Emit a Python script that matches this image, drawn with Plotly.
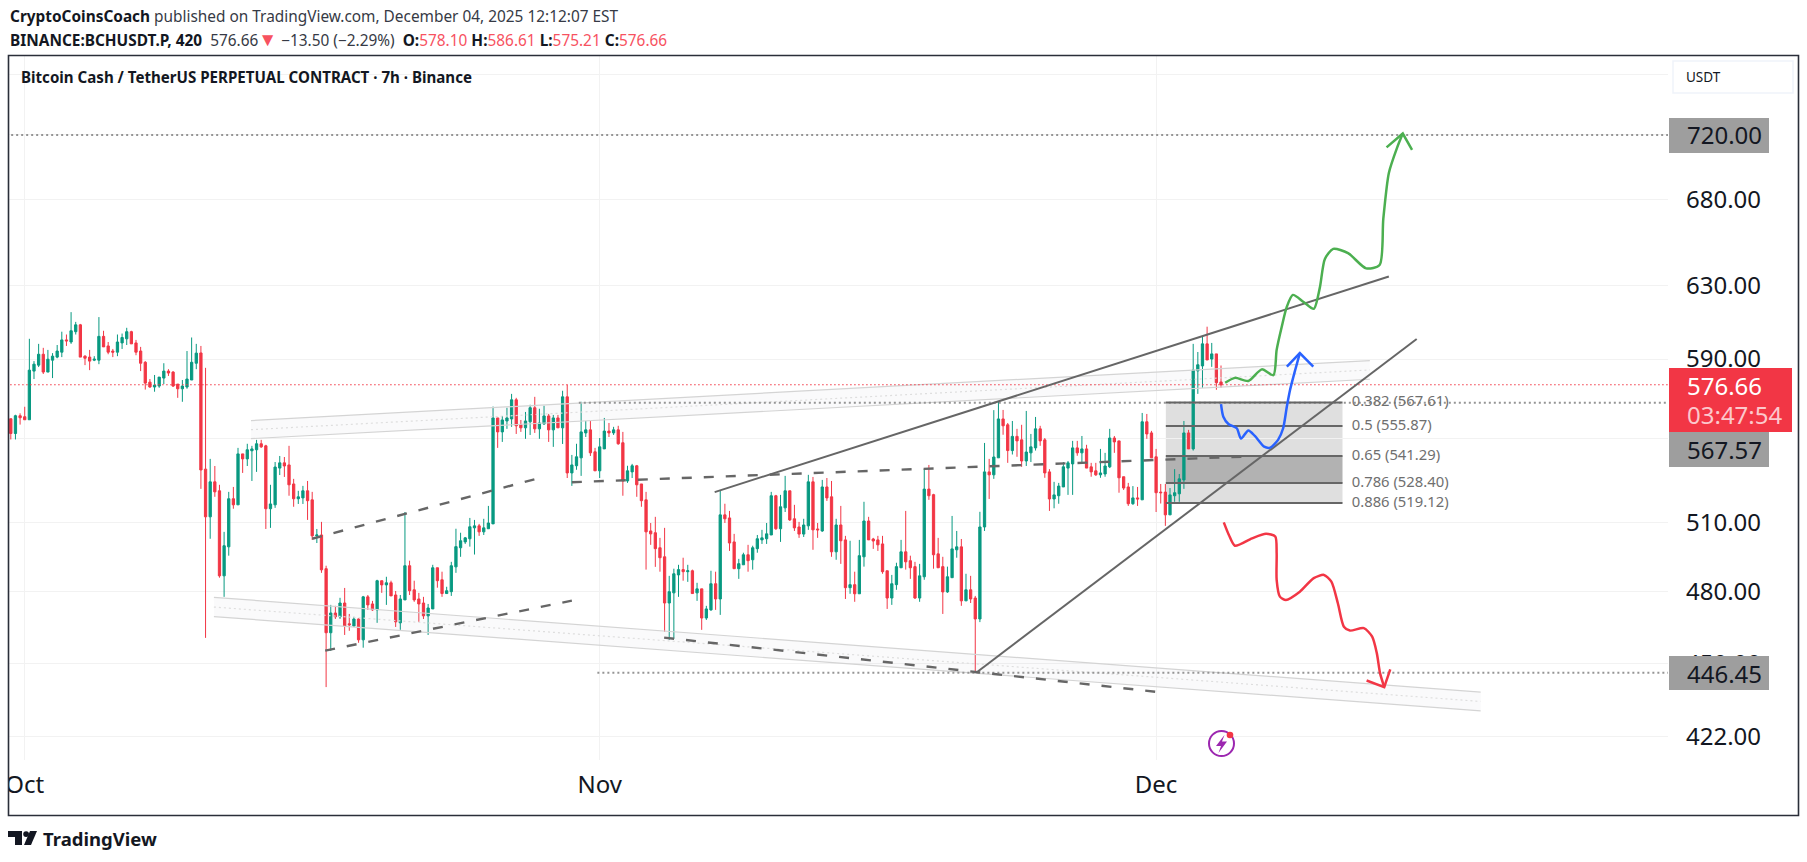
import plotly.graph_objects as go

W, H = 1807, 862
PLOT_L, PLOT_R, PLOT_T, PLOT_B = 9, 1668, 56, 760

opens = [559.5,552.2,561,560.5,559,583.7,586.8,592.5,583.2,589.4,591,593.6,600.1,599,604.5,608.2,591.5,591,589.4,589.4,602,596.9,594.2,593.6,598.5,600.7,604.5,598.5,594.2,588.3,578,575.5,576,580.1,583.7,583.2,577,574.6,575.5,579.1,587.8,
593.2,535,512.8,529,524.8,486.6,499.3,521.1,518.3,542.3,539.9,543.8,544.3,547.2,546.2,516.5,518.3,535.5,538,537,528,521.1,521.5,524.8,520.6,504.2,504.6,489.7,462.6,470.8,469.2,475,466.3,465.4,468.3,459.7,477.6,474.6,472.1,484.5,482.7,483.6,478.4,
466.7,476.3,491,480.6,476.7,475,469.6,472.5,490.1,484.9,479,479.8,490.5,498.9,501.5,502.9,507.8,508.7,506,507.4,509.6,559.9,553,558.4,559.4,569,556.5,555,558,565,554.5,556.9,560.9,554,559.9,555,570.5,533.2,536.6,540.4,552.5,554,543.3,534.2,
544.7,553.4,552.5,554,547.7,529.4,533.7,536.6,528,520.6,506.4,505.6,498.9,494.9,475,479.3,487,489.3,488.4,488.8,479.3,481,468.7,472.1,483.2,476.7,513.7,512.3,501.5,489.7,491.4,495.8,493.6,498.5,502.4,502.9,504.6,522.5,507.4,516.9,524.8,511.9,
508.2,505,508.7,529,507.3,506.4,526.6,522,497.1,509.1,502.4,481.5,482.8,478.9,494.9,510.9,502.8,502.4,500.6,488.8,477.1,482.8,490.1,497.1,493.2,490.6,477.1,486.2,525.6,523,496.2,490.6,479.7,485.8,498,499.3,475.9,480.6,477.1,468.3,508.2,533.7,532.3,
540.4,559.4,556.5,543.9,550.8,549.1,538.9,542.8,545.2,554.5,549.1,533.7,521,522.5,526.6,535.5,537.5,545.2,542.8,544.7,536.1,534.2,532.3,532.7,536.1,550,548.6,531.4,526.6,518.8,521.5,520.6,558,552.5,540.9,524.2,524.2,513.7,522.5,523.4,529.9,552.5,544.7,583.8,586.4,598,590,592.7,578.1]

highs = [559.5,561.5,562.2,565.5,600.7,588.9,598,595.9,594.8,593.1,597.4,604.5,603,615.1,609.8,608.7,592,594.8,591.5,612.4,605,599,595.3,603,603.5,606.6,605,600.1,596.4,588.9,579.6,581.7,580.6,587.8,584.7,583.7,577,579.1,594.2,601.4,598,
596.9,585.4,539.9,536.5,527.6,506,524.3,526.6,545.2,542.3,547.2,546.2,549.1,549.1,546.7,527.6,538.4,541.3,540.8,546.2,530.4,524.8,527.1,529.4,524.3,507.3,510.5,491,474.2,473.8,477.2,481.4,470.4,469.2,468.7,478,478.4,475.9,484.9,484.5,486.2,484.5,480.1,
478.4,515,493.2,484.5,479.3,477.6,474.6,491.4,490.1,488.4,481.9,492.7,507.4,505.6,503.7,512.3,511.4,509.6,511.9,517.8,565.6,559.9,560.9,565,572,570,558.9,562.9,566.5,570.5,564.5,566,561.9,561.4,561.4,573.6,576.7,541.8,547.2,568,558.4,558.4,545.2,550,
559.9,557.4,555.5,556,553,536.6,537.5,537,528,524.3,510,512.8,503.3,507.8,486.6,489.7,491.4,494.5,491.4,489.3,483.6,481,473.8,488.8,488.4,524.8,518.8,515.5,505.1,494,496.7,500.2,499.8,504.6,506.9,510,524.3,522.9,522.9,531.8,524.8,518.3,
510.5,511.9,532.3,531.3,510,529.9,530.8,529.4,511.9,517.8,504.2,502,488.4,502.4,519.7,512.8,503.3,504.2,504.2,488.8,487,492.3,502.4,515.5,495.4,492.7,491.8,535.1,537,523.4,503.3,494.9,490.6,513.2,506.4,502.8,487.5,486.6,478,515.1,547.6,539.9,563.8,
568,563.9,557.4,558.4,554.5,556.5,563.4,552,560.4,556,550,535,529,528.5,538.4,538.9,548.6,548.6,551,546.7,538,538,544.7,542.8,554.5,551,548.6,531.4,528.5,527,526.6,562.4,561.9,553.5,544.7,528,528,526.1,535,532.7,558.4,554,598,593.7,602.2,607.2,598.5,592.7,586.61]

lows = [549.3,549.3,556.6,559,559,579.6,585.8,582.2,583.2,580.1,590.4,591,596.9,598,603,591,586.8,584.2,588.9,587.3,596.4,592.5,591,591.5,595.3,597.4,598,592,583.7,574.2,575.1,573.1,575.1,577,581.2,575.5,570,568,574.6,579.1,584.7,
525.7,460.5,502.9,522,485.8,477.6,495.4,516.5,518.3,533.2,536.5,529.4,533.7,545.2,507.3,507.8,516.9,532.2,531.3,522.5,517.4,518.7,518.7,511.4,502.4,501,487.9,440.8,455.2,468.3,468.3,461.7,463.4,465,458.5,456.5,472.1,471.7,466.7,479.3,474.2,478,465,
463.8,476.3,478.4,475.5,467.1,468.3,461.7,472.5,481.5,477.6,479,478,487.9,494.9,500.6,499.4,495.9,504.2,504.6,507.4,509.6,545.2,548.1,554.5,555.5,552,553,549.6,551.5,552.5,549.6,556.5,548.1,545.7,555,547.1,530.8,527.1,534.7,531.8,550.5,541.3,534.2,530.8,
544.7,550.5,551.5,546.7,522.5,528.5,530.8,522,517.4,489.3,500.2,490.5,488.4,463,459.7,460.1,477.6,484.5,484,479,475.9,463.8,467.9,471.7,472.1,470,510,497.5,489.7,485.3,491.4,488.4,489.3,496.7,500.6,500.6,504.6,506.9,501.5,515,510.9,506.4,
503.3,503.7,506.9,498,503.3,506,520.1,494.9,493.6,491.8,476.7,478.9,475.5,478.9,490.6,502.4,498.4,497.5,487.5,472.5,474.2,480.6,490.1,489.3,485.3,476.7,475.5,484.9,520.6,489.7,490.1,470.4,479.3,485.8,494.5,473.8,475.9,475,446.45,467,506.4,521,530.4,
540.4,551.6,538,542,540.9,536.1,536.5,538.4,543.9,546.2,530.9,515.5,516.7,518.8,526.6,522.9,522.9,541.4,537.5,535.5,531.4,531.8,530.9,531.4,535.5,542.8,523.9,525.2,517.8,518.3,517.8,520.6,549.6,540.4,515,518.9,508.7,513.7,519.7,519.7,525.7,544.7,543.9,572,575.1,589.5,585.9,574.1,575.21]

closes = [552.2,561,560,559,584.2,587.3,592.5,583.2,589.9,591.5,594.2,600.1,599.6,605,608.2,591,590.4,588.9,589.9,602,596.4,593.6,593.6,599,601.4,604.5,598,593.6,587.8,577.5,575.5,576.5,580.6,583.7,582.7,576,574.6,576,579.6,588.3,593.1,
534.6,512.8,529,524.3,486.6,499.8,521.1,518.3,542.3,539.9,544.3,544.7,547.2,545.7,516.5,518.7,536,538,536.5,527.6,521.1,522,524.8,520.2,504.2,504.6,489.2,462.6,470.8,469.2,475,465.4,465.9,468.3,459.7,477.6,474.2,472.1,484.5,482.7,483.6,478,467.1,
476.7,491,480.2,476.3,474.6,469.6,472.9,490.1,484.5,479,480.2,491,499.4,502,503.3,508.3,508.7,506,507.8,510,559.9,553,558.9,559.9,569,556,555,558.4,565,554.5,557.4,560.9,554,559.9,555,570.5,533.2,537,540.9,553,554,542.8,534.2,545.7,
553.4,552.5,554,547.2,529.4,534.2,536.6,527.6,520.2,506,505.1,498.5,494.5,475,479.8,487.5,489.3,488.4,488.8,479,481,468.7,472.5,483.2,476.7,513.7,511.9,501,489.7,491.9,495.8,493.2,498.9,502.9,503.3,505.1,522.5,507.4,517.4,524.8,511.4,507.8,
505,509.1,529,506.9,506.9,526.6,521.5,497.1,509.1,502,481.5,482.8,478.9,495.4,510.9,502.4,501.9,500.2,488.4,477.1,483.2,490.6,497.1,492.7,490.1,477.1,486.6,525.6,522.5,495.8,490.1,479.7,486.2,498.4,499.3,475.9,480.6,476.7,468.3,508.2,533.7,532.3,540.8,
559.4,556,543.9,550.8,548.6,538.9,543.2,545.7,554.5,548.6,533.2,521,522.9,527,536.1,538,545.2,542.8,544.7,535.5,533.7,532.3,533.2,536.5,550,548.1,530.9,526.1,518.8,521.5,521,558,552,540.4,523.9,523.9,513.7,522.9,523.9,530.4,552.5,544.7,584.3,587,598,589.5,592.7,577.7,576.66]

assert len(opens) == len(highs) == len(lows) == len(closes)
first_bar = -3
bars = list(range(first_bar, first_bar + len(closes)))

month_bars = [0, 124, 244]
month_labels = ["Oct", "Nov", "Dec"]
price_ticks = [422, 450, 480, 510, 550, 590, 630, 680, 720, 760]
price_labels = ["422.00", "450.00", "480.00", "510.00", "", "590.00", "630.00", "680.00", "", ""]

fib_ratio = ["0.382", "0.5", "0.65", "0.786", "0.886"]
fib_price = [567.61, 555.87, 541.29, 528.40, 519.12]
fib_bars = [246.1, 284.2]
fib_label_bar = 286.2

upper_wedge_bar, upper_wedge_price = [148.8, 294.2], [524.2, 634.9]
lower_wedge_bar, lower_wedge_price = [205.2, 300.2], [446.45, 600.6]

dash_a_bar, dash_a_price = [62, 110.3], [502.9, 530.4]
dash_b_bar, dash_b_price = [64.8, 118], [455.3, 476]
dash_c_bar, dash_c_price = [118, 264.2], [528.8, 541.1]
dash_d_bar, dash_d_price = [137.9, 243.8], [460.6, 439]

chan_up_bar = [48.8, 290.1]
chan_up_top, chan_up_mid, chan_up_bot = [558.6, 589.2], [554.1, 584.3], [549.7, 579.5]
chan_dn_bar = [40.8, 314]
chan_dn_top, chan_dn_mid, chan_dn_bot = [477.4, 438.8], [473.3, 435.2], [469.3, 431.6]

green_bar = [258.9,261,263.9,266.8,269.3,270,271.1,272.2,273.5,275.8,278,279.3,280.4,282.2,285.4,289.3,292.2,293,294.2,296,297.2]
green_price = [577.7,580.2,578.6,584.6,581.6,594.8,607.2,618.1,624.6,620.7,616.9,628.5,644.9,650.7,648.2,639.5,641.4,668.2,696.1,712.1,720.9]
green_head_bar, green_head_price = [293.7, 297.2, 299.2], [712.1, 720.9, 710.5]

blue_bar = [258,258.5,259.6,261.4,262.3,263.9,265.3,267.3,268.6,270.3,271.4,272.2,272.9,274,275]
blue_price = [566.8,560.5,556.9,554.8,549.7,553.7,551,545.8,545.3,549.1,554.8,565.6,574.1,584.3,593.1]
blue_head_bar, blue_head_price = [272.2, 275, 277.9], [586, 593.1, 586]

red_bar = [258.6,259.7,261,264.7,267.7,269.7,270,270,270.7,272,275,278,280.2,281.8,283.2,284.5,285.8,288.8,290.6,291.6,292.3,293.2]
red_price = [510.3,504.6,499.8,503.1,505.1,503.9,496.5,484.9,477.7,476.3,479.8,485.6,487,484.1,474.9,465.1,463.5,464.5,461,454.3,446.3,440.8]
red_head_bar, red_head_price = [289.4, 293.2, 294.5], [443.4, 440.8, 447.8]

last_price = 576.66
level_720 = 720
level_high = 567.57
level_low = 446.45

FONT = "Noto Sans"
INK = "#131722"
UP, DOWN = "#089981", "#f23645"
GRID = "#f2f2f2"
DRAW = "#666666"


def px(v):
    return (v - PLOT_L) / (PLOT_R - PLOT_L)


def py(v):
    return 1 - (v - PLOT_T) / (PLOT_B - PLOT_T)


fig = go.Figure()


def line(x, y, color, width=2, dash="solid", shape="linear"):
    fig.add_trace(go.Scatter(x=x, y=y, mode="lines", hoverinfo="skip", showlegend=False,
                             line=dict(color=color, width=width, dash=dash, shape=shape, smoothing=0.7)))


fig.add_trace(go.Candlestick(x=bars, open=opens, high=highs, low=lows, close=closes,
                             whiskerwidth=0, hoverinfo="skip", showlegend=False,
                             increasing=dict(line=dict(color=UP, width=1), fillcolor=UP),
                             decreasing=dict(line=dict(color=DOWN, width=1), fillcolor=DOWN)))

for cb, top, mid, bot in [(chan_up_bar, chan_up_top, chan_up_mid, chan_up_bot),
                          (chan_dn_bar, chan_dn_top, chan_dn_mid, chan_dn_bot)]:
    fig.add_trace(go.Scatter(x=cb + cb[::-1], y=top + bot[::-1], mode="lines", fill="toself",
                             fillcolor="rgba(120,123,134,0.035)", line=dict(width=0),
                             hoverinfo="skip", showlegend=False))
    line(cb, top, "#d4d4d4", 1.2)
    line(cb, bot, "#d4d4d4", 1.2)
    line(cb, mid, "#dedede", 1.2, "2px,3px")

dot = "2px,3px"
full = [bars[0] - 1, 360]
line(full, [level_720] * 2, "#959595", 2, dot)
line([119.5, 360], [level_high] * 2, "#959595", 2, dot)
line([123.5, 360], [level_low] * 2, "#959595", 2, dot)
line(full, [last_price] * 2, DOWN, 1, "1.5px,2.5px")

dash = "10px,12px"
line(dash_a_bar, dash_a_price, DRAW, 2.4, dash)
line(dash_b_bar, dash_b_price, DRAW, 2.4, dash)
line(dash_c_bar, dash_c_price, DRAW, 2.4, dash)
line(dash_d_bar, dash_d_price, DRAW, 2.4, dash)

line(upper_wedge_bar, upper_wedge_price, DRAW, 2)
line(lower_wedge_bar, lower_wedge_price, DRAW, 2)

for p in fib_price:
    line(fib_bars, [p, p], DRAW, 2)
fig.add_trace(go.Scatter(x=[fib_label_bar] * len(fib_price), y=fib_price, mode="text",
                         text=[f"{r} ({p:.2f})" for r, p in zip(fib_ratio, fib_price)],
                         textposition="middle right", hoverinfo="skip", showlegend=False,
                         textfont=dict(family=FONT, size=14.8, color="#6f6f6f")))

line(green_bar, green_price, "#4caf50", 2.5, shape="spline")
line(green_head_bar, green_head_price, "#4caf50", 2.5)
line(blue_bar, blue_price, "#2962ff", 2.5, shape="spline")
line(blue_head_bar, blue_head_price, "#2962ff", 2.5)
line(red_bar, red_price, DOWN, 2.5, shape="spline")
line(red_head_bar, red_head_price, DOWN, 2.5)

shapes = []
# Fibonacci bands sit under the candles.
bands = [(0, 2, "#dfdfdf"), (2, 3, "#b2b2b2"), (3, 4, "#dfdfdf")]
for a, b, c in bands:
    shapes.append(dict(type="rect", xref="x", yref="y", x0=fib_bars[0], x1=fib_bars[1],
                       y0=fib_price[a], y1=fib_price[b], fillcolor=c, line=dict(width=0), layer="below"))


def box(x0, y0, x1, y1, fill, border=None, bw=0):
    return dict(type="rect", xref="paper", yref="paper", x0=px(x0), x1=px(x1), y0=py(y1), y1=py(y0),
                fillcolor=fill, line=dict(color=border, width=bw) if border else dict(width=0), layer="above")


def path(points, fill=None, color=None, width=0):
    d = "M " + " L ".join(f"{px(x):.5f},{py(y):.5f}" for x, y in points) + " Z"
    return dict(type="path", xref="paper", yref="paper", path=d, fillcolor=fill or "rgba(0,0,0,0)",
                line=dict(color=color, width=width) if color else dict(width=0), layer="above")


shapes += [
    box(0, 765, 8, 805, "#ffffff"),
    box(1673, 61, 1793, 93, "#ffffff", "#f0f3fa", 1.5),
    box(1669, 118, 1769, 153, "#9e9e9e"),
    box(1669, 432, 1769, 467, "#9e9e9e"),
    box(1669, 656, 1769, 690, "#9e9e9e"),
    box(1669, 368, 1792, 432, DOWN),
    box(8.5, 55.5, 1798.5, 815.5, "rgba(0,0,0,0)", "#2a2e39", 1.6),
    # TradingView mark
    path([(8, 831), (22, 831), (22, 845), (15, 845), (15, 837), (8, 837)], INK),
    path([(30, 831), (37, 831), (31, 845), (24, 845)], INK),
    dict(type="circle", xref="paper", yref="paper", x0=px(23.2), x1=px(29), y0=py(837), y1=py(831.2),
         fillcolor=INK, line=dict(width=0), layer="above"),
    # Indicator badge
    dict(type="circle", xref="paper", yref="paper", x0=px(1209), x1=px(1234), y0=py(756), y1=py(731),
         fillcolor="#ffffff", line=dict(color="#9c27b0", width=2), layer="above"),
    path([(1224.5, 735), (1216, 746), (1221, 746), (1218.5, 753), (1227, 741.5), (1222, 741.5)], "#9c27b0"),
    dict(type="circle", xref="paper", yref="paper", x0=px(1226.7), x1=px(1233.3), y0=py(738.3), y1=py(731.7),
         fillcolor=DOWN, line=dict(width=0), layer="above"),
]


def text(x, y, s, size=15.4, color=INK, anchor="left"):
    return dict(xref="paper", yref="paper", x=px(x), y=py(y), text=s, showarrow=False, xanchor=anchor,
                yanchor="middle", align="left", font=dict(family=FONT, size=size, color=color))


red_txt = "#f7525f"
gray_txt = "#363a45"
sp = lambda s, c: f'<span style="color:{c}">{s}</span>'
tri = f'<span style="color:{red_txt};font-size:19px">▼</span>'
annotations = [
    text(8, 17, "<b>CryptoCoinsCoach</b>" + sp(" published on TradingView.com, December 04, 2025 12:12:07 EST", gray_txt)),
    text(8, 39, "<b>BINANCE:BCHUSDT.P, 420</b> " + sp(f" {last_price}", gray_txt) + tri
         + sp(" −13.50 (−2.29%) ", gray_txt) + " <b>O:</b>" + sp("578.10", red_txt) + " <b>H:</b>" + sp("586.61", red_txt)
         + " <b>L:</b>" + sp("575.21", red_txt) + " <b>C:</b>" + sp("576.66", red_txt)),
    text(19, 77, "<b>Bitcoin Cash / TetherUS PERPETUAL CONTRACT · 7h · Binance</b>", 15.1),
    text(1684, 77, "USDT", 13.5),
    text(1685, 135, "720.00", 24),
    text(1685, 449, "567.57", 24),
    text(1685, 673, "446.45", 24),
    text(1685, 385, "576.66", 24, "#ffffff"),
    text(1685, 415, "03:47:54", 24, "#fcc8cc"),
    text(41, 838, "<b>TradingView</b>", 18.5),
]

fig.update_layout(
    width=W, height=H, autosize=False, paper_bgcolor="#ffffff", plot_bgcolor="#ffffff",
    margin=dict(l=PLOT_L, r=W - PLOT_R, t=PLOT_T, b=H - PLOT_B, pad=0), showlegend=False,
    font=dict(family=FONT, color=INK),
    shapes=shapes, annotations=annotations,
    xaxis=dict(range=[-3.39, 354.4], tickmode="array", tickvals=month_bars, ticktext=month_labels,
               showgrid=True, gridcolor=GRID, gridwidth=1, zeroline=False, showline=False, ticks="",
               ticklabelstandoff=8, tickfont=dict(family=FONT, size=24, color=INK),
               rangeslider=dict(visible=False), automargin=False),
    yaxis=dict(type="log", range=[2.6161, 2.8878], side="right", tickmode="array", tickvals=price_ticks,
               ticktext=price_labels, showgrid=True, gridcolor=GRID, gridwidth=1,
               zeroline=False, showline=False, ticks="", ticklabelstandoff=17,
               tickfont=dict(family=FONT, size=24, color=INK), automargin=False),
)

fig.write_html("out.html", config=dict(displayModeBar=False),
               post_script="document.body.style.margin='0';document.body.style.overflow='hidden';")
